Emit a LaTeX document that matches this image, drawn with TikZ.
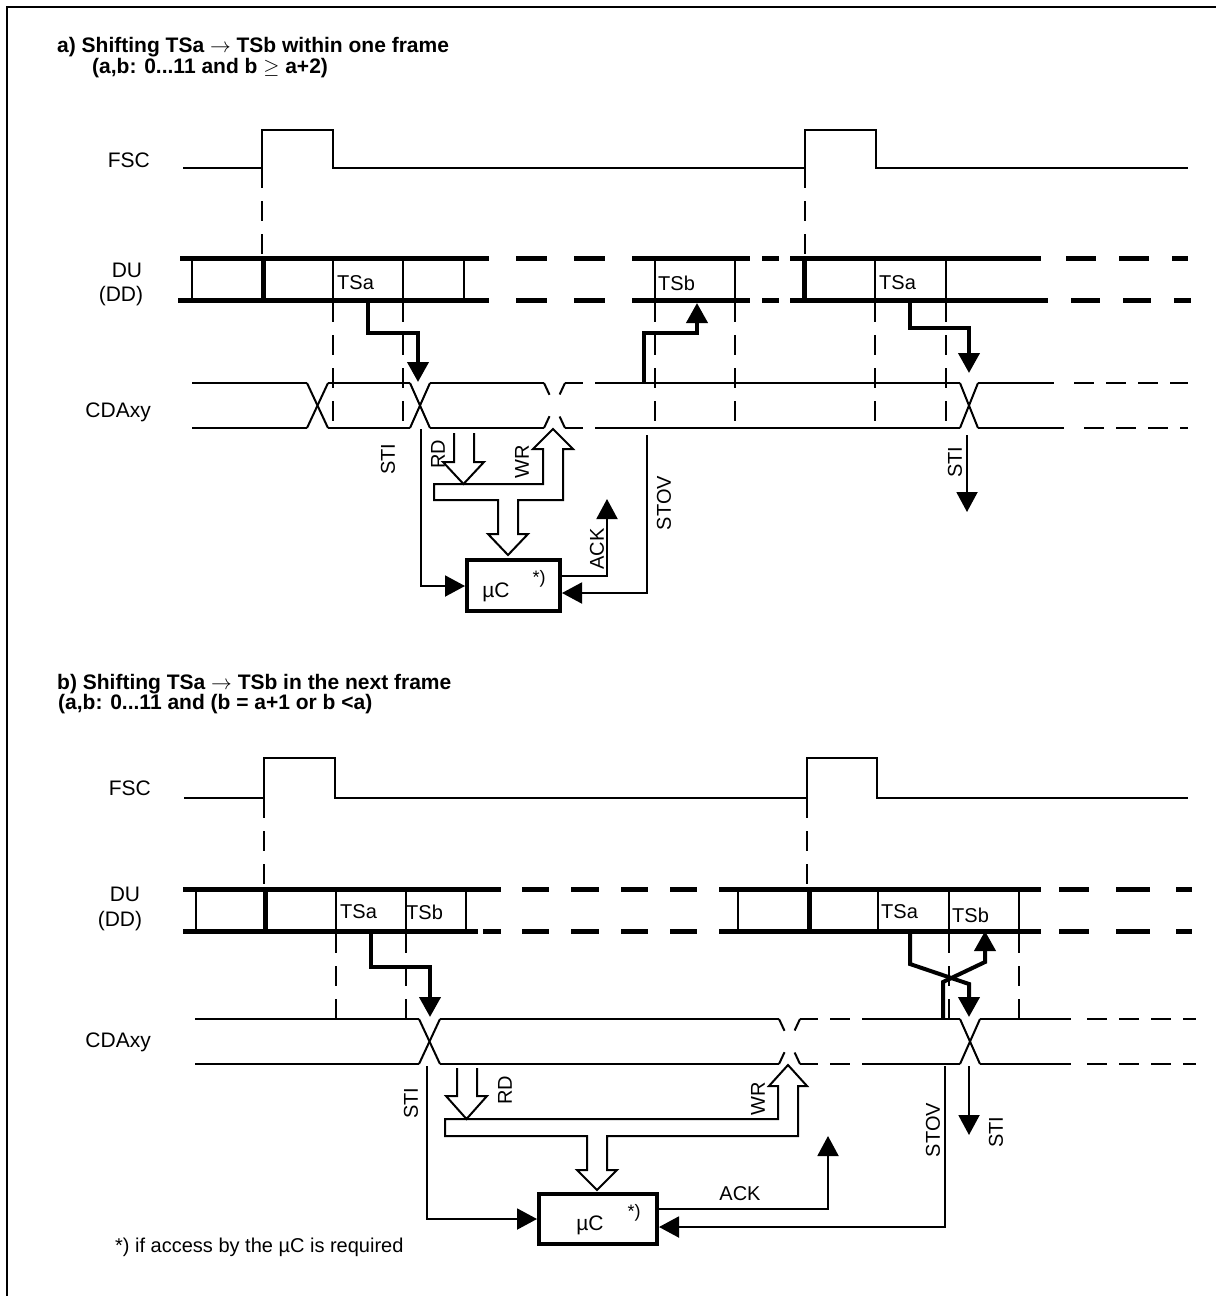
\documentclass[tikz,border=0pt]{standalone}
\usepackage{fontspec}
\setmainfont{Liberation Sans}
\usetikzlibrary{arrows.meta}
\newcommand\mycross[5][]{%
  \draw[sig,#1] (#2,#4)--(#3,#5);
  \draw[sig,#1] (#2,#5)--(#3,#4);}
\begin{document}
\begin{tikzpicture}[x=1pt,y=-1pt,
  sig/.style={line width=2pt},
  dsig/.style={line width=2pt,dash pattern=on 20pt off 12pt},
  xdash/.style={dash pattern=on 13pt off 24pt},
  du/.style={line width=5pt},
  cell/.style={line width=2pt},
  tcell/.style={line width=5pt},
  vdash/.style={line width=2pt,dash pattern=on 20pt off 13pt},
  thickarr/.style={line width=4pt,-{Triangle[length=20pt,width=21pt]}},
  thinarr/.style={line width=2pt,-{Triangle[length=20pt,width=21pt]}},
  hollow/.style={line width=2pt,line join=miter},
  lbl/.style={font=\fontsize{21}{25}\selectfont,inner sep=0pt},
  rlbl/.style={font=\fontsize{20}{24}\selectfont,inner sep=0pt,rotate=90},
  ts/.style={font=\fontsize{20}{24}\selectfont,inner sep=0pt,anchor=west},
  ttl/.style={font=\fontsize{21}{24}\selectfont\bfseries,inner sep=0pt,anchor=base west},
]
\useasboundingbox (0,0) rectangle (1223,1296);
% frame
\draw[sig] (7,1296)--(7,7)--(1216,7);

%================ PART A =================
\node[ttl] (ta1) at (57,52) {a) Shifting TSa {\mdseries$\rightarrow$} TSb within one frame};
\node[ttl] (ta2) at (92,73) {(a,b: 0...11 and b {\mdseries$\geq$} a+2)};

% FSC
\node[lbl,anchor=base east] (fsca) at (150,167) {FSC};
\draw[sig] (183,168)--(262,168)--(262,130)--(333,130)--(333,168)--(805,168)--(805,130)--(876,130)--(876,168)--(1188,168);
\draw[vdash] (262,168)--(262,256);
\draw[vdash] (805,168)--(805,256);

% DU
\node[lbl] (dua) at (127,270) {DU};
\node[lbl] (dda) at (121,296) {(DD)};
\foreach \a/\b in {180/489,516/547,574/605,632/750,762/779,790/1041,1066/1096,1119/1149,1172/1188}
  \draw[du] (\a,258)--(\b,258);
\foreach \a/\b in {178/489,516/547,574/605,632/750,762/779,790/1048,1071/1100,1123/1151,1174/1191}
  \draw[du] (\a,300)--(\b,300);
\foreach \x in {192,333,403,464,655,735,875,946}
  \draw[cell] (\x,258)--(\x,300);
\foreach \x in {263,804}
  \draw[tcell] (\x,258)--(\x,300);
\node[ts] (tsa1) at (337,283) {TSa};
\node[ts] (tsb1) at (658,283) {TSb};
\node[ts] (tsa2) at (879,283) {TSa};
\foreach \x in {333,403,655,735,875,946}
  \draw[vdash] (\x,302)--(\x,428);

% CDAxy
\node[lbl,anchor=east] (cdaa) at (151,412) {CDAxy};
\foreach \y in {383,428}{
  \draw[sig] (192,\y)--(307,\y);
  \draw[sig] (328,\y)--(410,\y);
  \draw[sig] (430,\y)--(544,\y);
  \draw[dsig,dash phase=2pt] (565,\y)--(612,\y);
  \draw[sig] (612,\y)--(960,\y);
}
\draw[sig] (978,383)--(1054,383);
\draw[sig] (978,428)--(1064,428);
\draw[dsig] (1074,383)--(1188,383);
\draw[dsig] (1084,428)--(1188,428);
\mycross{307}{328}{383}{428}
\mycross{410}{430}{383}{428}
\mycross[xdash]{544}{565}{383}{428}
\mycross{960}{978}{383}{428}

% transfer arrows
\draw[thickarr] (368,300)--(368,333)--(418,333)--(418,382);
\draw[thickarr] (644,383)--(644,333)--(697,333)--(697,303);
\draw[thickarr] (910,300)--(910,328)--(969,328)--(969,373);

% uC
\node[draw,line width=4pt,minimum width=93pt,minimum height=51pt,inner sep=0pt] (uca) at (513.5,585.5) {};
\node[lbl] (ucta) at (496,592) {µC};
\node[lbl,font=\fontsize{18}{22}\selectfont] (stara) at (539,579) {*)};

\draw[thinarr] (421,429)--(421,586)--(uca.west |- 0,586);
\node[rlbl] (stia) at (388,459) {STI};
\draw[hollow] (454,433)--(454,462)--(443,462)--(463.5,484)--(484,462)--(474,462)--(474,433);
\node[rlbl] (rda) at (438,454) {RD};
\draw[hollow] (553,429)--(573,449)--(563,449)--(563,500)--(518,500)--(518,534)--(528,534)--(508,555)--(488,534)--(498,534)--(498,500)--(434,500)--(434,484)--(543,484)--(543,449)--(533,449)--cycle;
\node[rlbl] (wra) at (522,462) {WR};
\draw[thinarr] (uca.east |- 0,576)--(607,576)--(607,499);
\node[rlbl] (acka) at (597,549) {ACK};
\draw[thinarr] (647,435)--(647,593)--(uca.east |- 0,593);
\node[rlbl] (stova) at (664,503) {STOV};
\draw[thinarr] (967,435)--(967,512);
\node[rlbl] (stia2) at (955,462) {STI};

%================ PART B =================
\node[ttl] (tb1) at (57,689) {b) Shifting TSa {\mdseries$\rightarrow$} TSb in the next frame};
\node[ttl] (tb2) at (58,709) {(a,b: 0...11 and (b = a+1 or b <a)};

\node[lbl,anchor=base east] (fscb) at (151,795) {FSC};
\draw[sig] (184,798)--(264,798)--(264,758)--(335,758)--(335,798)--(807,798)--(807,758)--(877,758)--(877,798)--(1188,798);
\draw[vdash] (264,798)--(264,887);
\draw[vdash] (807,798)--(807,887);

\node[lbl] (dub) at (125,894) {DU};
\node[lbl] (ddb) at (120,921) {(DD)};
\foreach \a/\b in {183/501,522/549,571/599,621/648,670/697,719/1041,1059/1089,1116/1150,1176/1192}
  \draw[du] (\a,889)--(\b,889);
\foreach \a/\b in {183/478,483/501,522/549,571/599,621/648,670/697,719/1041,1059/1089,1116/1150,1176/1192}
  \draw[du] (\a,931)--(\b,931);
\foreach \x in {196,336,406,466,738,878,949,1019}
  \draw[cell] (\x,889)--(\x,931);
\foreach \x in {265,809}
  \draw[tcell] (\x,889)--(\x,931);
\node[ts] (tsa3) at (340,912) {TSa};
\node[ts] (tsb3) at (406,912) {TSb};
\node[ts] (tsa4) at (881,912) {TSa};
\node[ts] (tsb4) at (952,915) {TSb};
\foreach \x in {336,406,949,1019}
  \draw[vdash] (\x,933)--(\x,1019);

\node[lbl,anchor=east] (cdab) at (151,1042) {CDAxy};
\foreach \y in {1019,1064}{
  \draw[sig] (195,\y)--(419,\y);
  \draw[sig] (440,\y)--(779,\y);
  \draw[dsig,dash phase=2pt] (800,\y)--(866,\y);
  \draw[sig] (866,\y)--(960,\y);
  \draw[sig] (980,\y)--(1071,\y);
  \draw[dsig] (1087,\y)--(1196,\y);
}
\mycross{419}{440}{1019}{1064}
\mycross[xdash]{779}{800}{1019}{1064}
\mycross{960}{980}{1019}{1064}

\draw[thickarr] (371,931)--(371,967)--(430,967)--(430,1017);
\draw[thickarr] (910,931)--(910,964)--(969,984)--(969,1017);
\draw[thickarr] (943,1019)--(943,982)--(985,962)--(985,931);

\node[draw,line width=4pt,minimum width=118pt,minimum height=50pt,inner sep=0pt] (ucb) at (598,1219) {};
\node[lbl] (uctb) at (590,1225) {µC};
\node[lbl,font=\fontsize{18}{22}\selectfont] (starb) at (634,1213) {*)};

\draw[thinarr] (427,1066)--(427,1219)--(ucb.west |- 0,1219);
\node[rlbl] (stib) at (411,1103) {STI};
\draw[hollow] (457,1068)--(457,1096)--(446,1096)--(466.5,1119)--(487,1096)--(477,1096)--(477,1068);
\node[rlbl] (rdb) at (505,1090) {RD};
\draw[hollow] (788,1065)--(807,1086)--(798,1086)--(798,1136)--(607,1136)--(607,1170)--(617,1170)--(597,1190)--(577,1170)--(587,1170)--(587,1136)--(445,1136)--(445,1119)--(778,1119)--(778,1086)--(769,1086)--cycle;
\node[rlbl] (wrb) at (758,1099) {WR};
\draw[thinarr] (ucb.east |- 0,1209)--(828,1209)--(828,1136);
\node[lbl,font=\fontsize{20}{24}\selectfont] (ackb) at (740,1194) {ACK};
\draw[thinarr] (945,1066)--(945,1227)--(ucb.east |- 0,1227);
\node[rlbl] (stovb) at (933,1130) {STOV};
\draw[thinarr] (969,1066)--(969,1135);
\node[rlbl] (stib2) at (996,1132) {STI};

\node[lbl,anchor=west,font=\fontsize{20}{24}\selectfont] (foot) at (115,1247) {*) if access by the µC is required};
\end{tikzpicture}
\end{document}
